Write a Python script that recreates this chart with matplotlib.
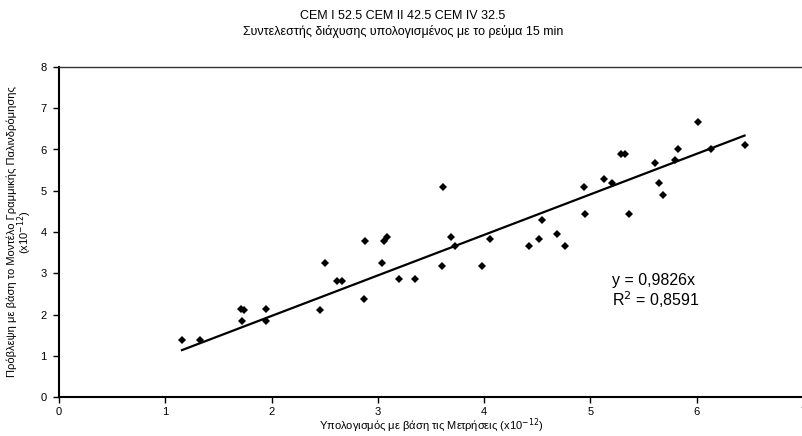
import matplotlib
matplotlib.use("Agg")
import matplotlib.pyplot as plt
import numpy as np

plt.rcParams['font.family'] = ['Liberation Sans', 'DejaVu Sans']

measured = [1.157, 1.326, 1.709, 1.743, 1.719, 1.950, 1.950, 2.455, 2.499, 2.620, 2.665,
            2.869, 2.879, 3.036, 3.057, 3.083, 3.198, 3.352, 3.616, 3.603, 3.690, 3.722,
            3.979, 4.055, 4.424, 4.516, 4.541, 4.685, 4.760, 4.936, 4.948, 5.130, 5.202,
            5.287, 5.322, 5.365, 5.610, 5.648, 5.679, 5.798, 5.820, 6.011, 6.133, 6.450]
predicted = [1.38, 1.38, 2.13, 2.11, 1.85, 2.13, 1.84, 2.11, 3.26, 2.81, 2.81,
             2.38, 3.79, 3.26, 3.79, 3.87, 2.87, 2.87, 5.08, 3.18, 3.87, 3.65,
             3.18, 3.84, 3.67, 3.84, 4.30, 3.95, 3.67, 5.08, 4.44, 5.28, 5.18,
             5.88, 5.88, 4.44, 5.67, 5.18, 4.90, 5.75, 6.00, 6.67, 6.01, 6.12]
slope = 0.9826
r2 = 0.8591
x_ticks = [0, 1, 2, 3, 4, 5, 6, 7]
y_ticks = [0, 1, 2, 3, 4, 5, 6, 7, 8]

W, H = 803, 436
fig = plt.figure(figsize=(W/100, H/100), dpi=100)
ax = fig.add_axes([59/W, 1-397/H, 1-59/W, (397-67)/H])

def fx(px):
    return px / W

def fy(py):
    return 1 - py / H

ax.plot(measured, predicted, linestyle='none', marker='D', markersize=4,
        color='black', markeredgewidth=0)
xs = np.array([min(measured), max(measured)])
ax.plot(xs, slope*xs, color='black', linewidth=1.6)

ax.set_xlim(0, 7)
ax.set_ylim(0, 8)
ax.set_xticks(x_ticks)
ax.set_yticks(y_ticks)
ax.tick_params(axis='x', direction='out', length=4, width=1, labelsize=8, pad=3)
ax.tick_params(axis='y', direction='out', length=4, width=1, labelsize=8, pad=5)
for s in ['left', 'bottom']:
    ax.spines[s].set_linewidth(1.5)
for s in ['top', 'right']:
    ax.spines[s].set_linewidth(1.0)
    ax.spines[s].set_color('#333333')

fig.text(fx(612), fy(281), 'y = 0,9826x', fontsize=11.5, va='center', ha='left')
fig.text(fx(612), fy(300), 'R$^2$ = 0,8591', fontsize=11.5, va='center', ha='left')

fig.text(fx(403), fy(16), 'CEM I 52.5 CEM II 42.5 CEM IV 32.5', ha='center', va='center', fontsize=9)
fig.text(fx(403), fy(32), 'Συντελεστής διάχυσης υπολογισμένος με το ρεύμα 15 min', ha='center', va='center', fontsize=9)

fig.text(fx(431), fy(426), 'Υπολογισμός με βάση τις Μετρήσεις (x10$^{-12}$)', ha='center', va='center', fontsize=8)
fig.text(fx(12), fy(232), 'Πρόβλεψη με βάση το Μοντέλο Γραμμικής Παλινδρόμησης', ha='center', va='center', fontsize=8, rotation=90)
fig.text(fx(25), fy(232), '(x10$^{-12}$)', ha='center', va='center', fontsize=8, rotation=90)

fig.savefig('out.png', dpi=100)
